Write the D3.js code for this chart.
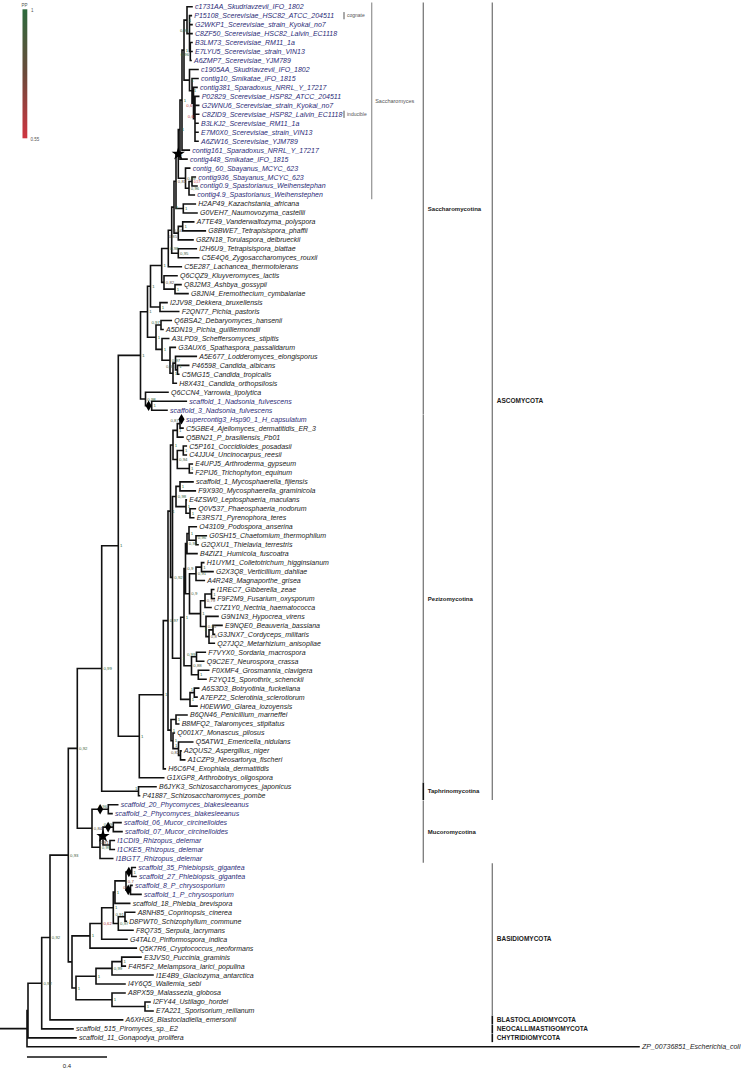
<!DOCTYPE html>
<html><head><meta charset="utf-8">
<script src="https://cdn.jsdelivr.net/npm/d3@7"></script>
<style>body{margin:0;background:#fff}svg{display:block}</style>
</head><body><svg id="c" width="741" height="1072"></svg>
<script>
// [id, parent, distance from root (subst./site), posterior probability]
const backboneNodes = [
 ["ROOT","",0,null],["X4","ROOT",0.005,null],["X3","X4",0.0735,0.92],["X2","X3",0.115,0.92],
 ["X1","X2",0.2065,0.93],["DIKMUC","X1",0.2515,0.92],["ASCO","DIKMUC",0.3735,0.99],["ASC","ASCO",0.4565,1]
];
const saccharomycotinaNodes = [
 ["SROOT","ASC",0.5675,1],["SC3","SROOT",0.6025,1],["SC2","SC3",0.6175,1],["SCE","SC2",0.6735,1],
 ["SACL","SCE",0.7065,0.98],["PRE","SACL",0.7235,0.84],["WGD","PRE",0.735,1],["WGD1","WGD",0.745,0.81],
 ["SACC","WGD1",0.7565,1],["A3","SACC",0.765,1],["A2","A3",0.775,1],["A1","A2",0.785,1],["COG","A1",0.8,1],
 ["c1731AA_Skudriavzevii_IFO_1802","COG",0.825,null],["COG2","COG",0.8125,0.96],
 ["P15108_Scerevisiae_HSC82_ATCC_204511","COG2",0.8215,null],["G2WKP1_Scerevisiae_strain_Kyokai_no7","COG2",0.825,null],
 ["C8ZF50_Scerevisiae_HSC82_Lalvin_EC1118","COG2",0.825,null],["COG3","COG2",0.8165,0.96],
 ["B3LM73_Scerevisiae_RM11_1a","COG3",0.825,null],["E7LYU5_Scerevisiae_strain_VIN13","COG3",0.825,null],
 ["A6ZMP7_Scerevisiae_YJM789","COG3",0.82,null],
 ["INDU","A1",0.8125,1],["c1905AA_Skudriavzevii_IFO_1802","INDU",0.855,null],["I1","INDU",0.825,1],
 ["contig10_Smikatae_IFO_1815","I1",0.855,null],["I2","I1",0.8325,0.6],["contig381_Sparadoxus_NRRL_Y_17217","I2",0.85,null],
 ["I3","I2",0.84,0.6],["P02829_Scerevisiae_HSP82_ATCC_204511","I3",0.8585,null],["G2WNU6_Scerevisiae_strain_Kyokai_no7","I3",0.8585,null],
 ["C8ZID9_Scerevisiae_HSP82_Lalvin_EC1118","I3",0.8585,null],["B3LKJ2_Scerevisiae_RM11_1a","I3",0.855,null],
 ["E7M0X0_Scerevisiae_strain_VIN13","I3",0.855,null],["A6ZW16_Scerevisiae_YJM789","I3",0.855,null],
 ["contig161_Sparadoxus_NRRL_Y_17217","A2",0.8115,null],["contig448_Smikatae_IFO_1815","A3",0.8,null],
 ["BAY","SACC",0.7925,0.89],["contig_60_Sbayanus_MCYC_623","BAY",0.8135,null],["BAY2","BAY",0.81,0.96],
 ["BAY3","BAY2",0.825,0.57],["contig936_Sbayanus_MCYC_623","BAY3",0.8415,null],["contig0.9_Spastorianus_Weihenstephan","BAY3",0.85,null],
 ["contig4.9_Spastorianus_Weihenstephen","BAY2",0.8365,null],
 ["KN","WGD1",0.7815,1],["H2AP49_Kazachstania_africana","KN",0.8415,null],["G0VEH7_Naumovozyma_castellii","KN",0.85,null],
 ["VTT","WGD",0.7565,0.85],["VT","VTT",0.7785,1],["A7TE49_Vanderwaltozyma_polyspora","VT",0.8335,null],
 ["G8BWE7_Tetrapisispora_phaffii","VT",0.8915,null],["G8ZN18_Torulaspora_delbrueckii","VTT",0.83,null],
 ["ZT","PRE",0.7565,0.95],["I2H6U9_Tetrapisispora_blattae","ZT",0.8465,null],["C5E4Q6_Zygosaccharomyces_rouxii","ZT",0.8585,null],
 ["C5E287_Lachancea_thermotolerans","SACL",0.7715,null],
 ["KLUY","SCE",0.685,0.82],["Q6CQZ9_Kluyveromyces_lactis","KLUY",0.75,null],["AE","KLUY",0.74,1],
 ["Q8J2M3_Ashbya_gossypii","AE",0.77,null],["G8JNI4_Eremothecium_cymbalariae","AE",0.805,null],
 ["DP","SC2",0.665,1],["I2JV98_Dekkera_bruxellensis","DP",0.7,null],["F2QN77_Pichia_pastoris","DP",0.7585,null],
 ["CUG","SC3",0.645,1],["DEB","CUG",0.67,0.97],["Q6BSA2_Debaryomyces_hansenii","DEB",0.7215,null],
 ["A5DN19_Pichia_guilliermondii","DEB",0.68,null],["CTG1","CUG",0.675,1],["A3LPD9_Scheffersomyces_stipitis","CTG1",0.7085,null],
 ["CTG2","CTG1",0.715,0.97],["G3AUX6_Spathaspora_passalidarum","CTG2",0.7415,null],["CTG3","CTG2",0.73,1],
 ["CTG4","CTG3",0.7425,0.86],["A5E677_Lodderomyces_elongisporus","CTG4",0.8465,null],["CTG5","CTG4",0.7525,1],
 ["P46598_Candida_albicans","CTG5",0.8085,null],["C5MG15_Candida_tropicalis","CTG5",0.7585,null],
 ["H8X431_Candida_orthopsilosis","CTG3",0.7465,null],
 ["YN","SROOT",0.5925,0.98],["Q6CCN4_Yarrowia_lipolytica","YN",0.705,null],["NADS","YN",0.6235,1],
 ["scaffold_1_Nadsonia_fulvescens","NADS",0.7965,null],["scaffold_3_Nadsonia_fulvescens","NADS",0.7,null]
];
const pezizomycotinaNodes = [
 ["PEZ","ASC",0.5615,1],["REST","PEZ",0.6815,1],["P1","REST",0.705,0.97],["P2","P1",0.7175,1],
 ["ONY","P2",0.73,1],["AJ2","ONY",0.7515,1],["AJ","AJ2",0.765,0.87],
 ["supercontig3_Hsp90_1_H_capsulatum","AJ",0.78,null],["C5GBE4_Ajellomyces_dermatitidis_ER_3","AJ",0.78,null],
 ["Q5BN21_P_brasiliensis_Pb01","AJ2",0.78,null],["CUAR","ONY",0.7515,0.94],["CU","CUAR",0.7815,1],
 ["C5P161_Coccidioides_posadasii","CU",0.7965,null],["C4JJU4_Uncinocarpus_reesii","CU",0.7965,null],
 ["AR","CUAR",0.8115,1],["E4UPJ5_Arthroderma_gypseum","AR",0.8265,null],["F2PIJ6_Trichophyton_equinum","AR",0.8265,null],
 ["DSL","P2",0.7275,0.92],["DOTH","DSL",0.745,0.98],["MYC","DOTH",0.765,1],
 ["scaffold_1_Mycosphaerella_fijiensis","MYC",0.83,null],["F9X930_Mycosphaerella_graminicola","MYC",0.8415,null],
 ["PLEO","DOTH",0.795,1],["E4ZSW0_Leptosphaeria_maculans","PLEO",0.7965,null],["PL2","PLEO",0.815,1],
 ["Q0V537_Phaeosphaeria_nodorum","PL2",0.8415,null],["E3RS71_Pyrenophora_teres","PL2",0.8335,null],
 ["SL","DSL",0.7685,1],["SORD","SL",0.785,1],["CGH","SORD",0.7925,0.9],["CHAE","CGH",0.8,0.92],["SOR1","CHAE",0.81,1],
 ["O43109_Podospora_anserina","SOR1",0.8465,null],["CT","SOR1",0.845,0.96],
 ["G0SH15_Chaetomium_thermophilum","CT",0.8965,null],["G2QXU1_Thielavia_terrestris","CT",0.855,null],
 ["B4ZIZ1_Humicola_fuscoatra","CHAE",0.85,null],["GH","CGH",0.8125,0.9],["GVM","GH",0.845,0.91],["GV","GVM",0.8725,1],
 ["H1UYM1_Colletotrichum_higginsianum","GV",0.8835,null],["G2X3Q8_Verticillium_dahliae","GV",0.93,null],
 ["A4R248_Magnaporthe_grisea","GVM",0.8865,null],["HYP","GH",0.8675,1],["NEC","HYP",0.89,0.79],["FUS","NEC",0.9225,1],
 ["I1REC7_Gibberella_zeae","FUS",0.9335,null],["F9F2M9_Fusarium_oxysporum","FUS",0.9365,null],
 ["C7Z1Y0_Nectria_haematococca","NEC",0.92,null],["HYP2","HYP",0.895,0.85],["G9N1N3_Hypocrea_virens","HYP2",0.955,null],
 ["CM","HYP2",0.91,0.8],["BC","CM",0.93,1],["E9NQE0_Beauveria_bassiana","BC",0.975,null],
 ["G3JNX7_Cordyceps_militaris","BC",0.9375,null],["Q27JQ2_Metarhizium_anisopliae","CM",0.9365,null],
 ["NSO","SORD",0.8225,0.88],["NS","NSO",0.8475,0.99],["F7VYX0_Sordaria_macrospora","NS",0.8915,null],
 ["Q9C2E7_Neurospora_crassa","NS",0.8835,null],["OPH","NSO",0.8565,1],["F0XMF4_Grosmannia_clavigera","OPH",0.9085,null],
 ["F2YQ15_Sporothrix_schenckii","OPH",0.895,null],["LEO","SL",0.815,1],["BS","LEO",0.8365,1],
 ["A6S3D3_Botryotinia_fuckeliana","BS",0.8585,null],["A7EPZ2_Sclerotinia_sclerotiorum","BS",0.85,null],
 ["H0EWW0_Glarea_lozoyensis","LEO",0.85,null],
 ["EURO","P1",0.72,1],["PT","EURO",0.745,1],["B6QN46_Penicillium_marneffei","PT",0.8,null],
 ["B8MFQ2_Talaromyces_stipitatus","PT",0.7585,null],["MASP","EURO",0.73,1],["Q001X7_Monascus_pilosus","MASP",0.7365,null],
 ["ASP","MASP",0.7575,1],["Q5ATW1_Emericella_nidulans","ASP",0.8285,null],["AN","ASP",0.7675,0.82],
 ["A2QUS2_Aspergillus_niger","AN",0.77,null],["A1CZP9_Neosartorya_fischeri","AN",0.7885,null],
 ["H6C6P4_Exophiala_dermatitidis","REST",0.6915,null],["G1XGP8_Arthrobotrys_oligospora","PEZ",0.6835,null]
];
const taphrinomycotinaNodes = [
 ["SCHIZO","ASCO",0.5575,1],["B6JYK3_Schizosaccharomyces_japonicus","SCHIZO",0.645,null],
 ["P41887_Schizosaccharomyces_pombe","SCHIZO",0.5625,null]
];
const mucoromycotinaNodes = [
 ["MUCORO","DIKMUC",0.325,0.84],["PHY","MUCORO",0.4065,0.96],
 ["scaffold_20_Phycomyces_blakesleeanus","PHY",0.4535,null],["scaffold_2_Phycomyces_blakesleeanus","PHY",0.425,null],
 ["MR","MUCORO",0.365,0.99],["MR2","MR",0.38,null],["MUC","MR2",0.4315,0.99],
 ["scaffold_06_Mucor_circinelloides","MUC",0.47,null],["scaffold_07_Mucor_circinelloides","MUC",0.475,null],
 ["RH1","MR2",0.415,0.81],["I1CDI9_Rhizopus_delemar","RH1",0.4365,null],["I1CKE5_Rhizopus_delemar","RH1",0.4365,null],
 ["I1BGT7_Rhizopus_delemar","MR",0.4285,null]
];
const basidiomycotaNodes = [
 ["BASID","X1",0.225,null],["AGAQ","BASID",0.315,1],["AGS","AGAQ",0.3735,0.62],["AGAR","AGS",0.4315,1],
 ["POLY","AGAR",0.44,1],["PHPC","POLY",0.495,0.7],["PH1","PHPC",0.5235,1],
 ["scaffold_35_Phlebiopsis_gigantea","PH1",0.5415,null],["scaffold_27_Phlebiopsis_gigantea","PH1",0.545,null],
 ["PC","PHPC",0.5175,0.7],["scaffold_8_P_chrysosporium","PC",0.525,null],["scaffold_1_P_chrysosporium","PC",0.57,null],
 ["scaffold_18_Phlebia_brevispora","POLY",0.5135,null],["ADS","AGAR",0.4565,0.97],["AD","ADS",0.49,0.91],
 ["A8NH85_Coprinopsis_cinerea","AD",0.5385,null],["D8PWT0_Schizophyllum_commune","AD",0.4965,null],
 ["F8Q735_Serpula_lacrymans","ADS",0.53,null],["G4TAL0_Piriformospora_indica","AGS",0.5,null],
 ["Q5K7R6_Cryptococcus_neoformans","AGAQ",0.5465,null],
 ["BASAL","BASID",0.245,1],["PW","BASAL",0.345,1],["PUC","PW",0.425,0.99],["PM","PUC",0.4735,1],
 ["E3JVS0_Puccinia_graminis","PM",0.57,null],["F4R5F2_Melampsora_larici_populina","PM",0.4915,null],
 ["I1E4B9_Glaciozyma_antarctica","PUC",0.63,null],["I4Y6Q5_Wallemia_sebi","PW",0.49,null],
 ["USTI","BASAL",0.425,1],["A8PX59_Malassezia_globosa","USTI",0.49,null],["UST2","USTI",0.59,1],
 ["I2FY44_Ustilago_hordei","UST2",0.615,null],["E7A221_Sporisorium_reilianum","UST2",0.63,null]
];
const basalLeaves = [
 ["A6XHG6_Blastocladiella_emersonii","X2",0.478,null],["scaffold_515_Piromyces_sp._E2","X3",0.23,null],
 ["scaffold_11_Gonapodya_prolifera","X4",0.245,null],["ZP_00736851_Escherichia_coli","ROOT",3.06,null]
];
// sequences shown in blue (genome-project sequences)
const highlightedPrefixes = ["c1731AA","P15108","G2WKP1","C8ZF50","B3LM73","E7LYU5","A6ZMP7","c1905AA","contig","P02829",
 "G2WNU6","C8ZID9","B3LKJ2","E7M0X0","A6ZW16","scaffold_1_Nadsonia","scaffold_3_Nadsonia","supercontig3",
 "scaffold_20","scaffold_2_","scaffold_06","scaffold_07","I1CDI9","I1CKE5","I1BGT7","scaffold_35","scaffold_27","scaffold_8_","scaffold_1_P_"];
const starNodes = ["SACC","MR2"];
const diamondBranches = ["NADS","supercontig3_Hsp90_1_H_capsulatum","PHY","MUC","PH1","PC"];
// clade annotations
const groupNames = ["Saccharomyces","Saccharomycotina","Pezizomycotina","Taphrinomycotina","Mucoromycotina",
 "ASCOMYCOTA","BASIDIOMYCOTA","BLASTOCLADIOMYCOTA","NEOCALLIMASTIGOMYCOTA","CHYTRIDIOMYCOTA"];
const groupFirst = ["c1731AA_Skudriavzevii_IFO_1802","c1731AA_Skudriavzevii_IFO_1802","supercontig3_Hsp90_1_H_capsulatum",
 "B6JYK3_Schizosaccharomyces_japonicus","scaffold_20_Phycomyces_blakesleeanus","c1731AA_Skudriavzevii_IFO_1802",
 "scaffold_35_Phlebiopsis_gigantea","A6XHG6_Blastocladiella_emersonii","scaffold_515_Piromyces_sp._E2","scaffold_11_Gonapodya_prolifera"];
const groupLast = ["contig4.9_Spastorianus_Weihenstephen","scaffold_3_Nadsonia_fulvescens","G1XGP8_Arthrobotrys_oligospora",
 "P41887_Schizosaccharomyces_pombe","I1BGT7_Rhizopus_delemar","P41887_Schizosaccharomyces_pombe",
 "E7A221_Sporisorium_reilianum","A6XHG6_Blastocladiella_emersonii","scaffold_515_Piromyces_sp._E2","scaffold_11_Gonapodya_prolifera"];
const groupLevel = [0,1,1,1,1,2,2,2,2,2];
const paralogNotes = ["cognate","inducible"];
const paralogLeaves = ["P15108_Scerevisiae_HSC82_ATCC_204511","C8ZID9_Scerevisiae_HSP82_Lalvin_EC1118"];
const legendMax = 1, legendMin = 0.55;
const scaleBarValue = 0.4;

const svg = d3.select("#c");
const FONT = "Liberation Sans, Arial, sans-serif";
const all = [].concat(backboneNodes, saccharomycotinaNodes, pezizomycotinaNodes, taphrinomycotinaNodes,
  mucoromycotinaNodes, basidiomycotaNodes, basalLeaves);
const root = d3.stratify().id(d => d[0]).parentId(d => d[1] === "" ? null : d[1])(all);
const leaves = root.leaves();
const yScale = d3.scaleLinear().domain([0, leaves.length - 1]).range([6.7, 1046.8]);
const xScale = d3.scaleLinear().domain([0, 1]).range([27, 227]);
leaves.forEach((l, i) => l.py = yScale(i));
root.eachAfter(n => { if (n.children) n.py = (n.children[0].py + n.children[n.children.length - 1].py) / 2; });
root.each(n => n.px = xScale(n.data[2]));
const byId = new Map(root.descendants().map(n => [n.id, n]));
const ppColor = d3.scaleLinear().domain([legendMin, (legendMin + legendMax) / 2, legendMax])
  .range(["#cf3440", "#6b4a3a", "#2c6a3c"]);

// branches
let p = d3.path();
p.moveTo(xScale(-0.135), root.py); p.lineTo(root.px, root.py);
root.descendants().forEach(n => {
  if (n.parent) { p.moveTo(n.parent.px, n.py); p.lineTo(n.px, n.py); }
  if (n.children) { p.moveTo(n.px, n.children[0].py); p.lineTo(n.px, n.children[n.children.length - 1].py); }
});
svg.append("path").attr("d", p.toString()).attr("fill", "none").attr("stroke", "#111")
  .attr("stroke-width", 1.6).attr("stroke-linecap", "square");

// leaf labels
const leafText = svg.append("g").selectAll("text").data(leaves).join("text")
  .attr("x", d => d.px + 3).attr("y", d => d.py).attr("dy", "0.35em")
  .attr("font-family", FONT).attr("font-style", "italic").attr("font-size", 7)
  .attr("fill", d => highlightedPrefixes.some(h => d.id.startsWith(h)) ? "#2c2c78" : "#1a1a1a")
  .text(d => d.id);
const boxes = [];
leafText.each(function () { const b = this.getBBox(); boxes.push({x0: b.x, x1: b.x + b.width, y0: b.y + 0.6, y1: b.y + b.height - 0.6}); });

// support values: right of the node, or another free spot close to it
const fmt = v => String(v).replace(".", ",");
const overl = (a, b) => a.x0 < b.x1 && a.x1 > b.x0 && a.y0 < b.y1 && a.y1 > b.y0;
const gS = svg.append("g").attr("font-family", FONT);
root.descendants().filter(n => n.children && n.data[3] != null).forEach(n => {
  const t = gS.append("text").attr("font-size", 4.3).attr("fill", ppColor(n.data[3])).text(fmt(n.data[3]));
  const cands = [
    [n.px + 1.8, n.py + 1.6, "start"], [n.px - 1.2, n.py - 1.2, "end"], [n.px - 1.2, n.py + 4.4, "end"],
    [n.px + 1.8, n.py - 1.4, "start"], [n.px + 1.8, n.py + 4.6, "start"], [n.px - 1.2, n.py - 4.2, "end"],
    [n.px - 1.2, n.py + 7.4, "end"], [n.px - 6, n.py + 1.6, "end"]
  ];
  let chosen = null;
  for (const c of cands) {
    t.attr("x", c[0]).attr("y", c[1]).attr("text-anchor", c[2]);
    const b = t.node().getBBox();
    const box = {x0: b.x, x1: b.x + b.width, y0: b.y + 0.4, y1: b.y + b.height - 0.4};
    if (!boxes.some(o => overl(box, o))) { chosen = box; break; }
  }
  if (!chosen) {
    t.attr("font-size", 3.4).attr("x", cands[0][0]).attr("y", cands[0][1]).attr("text-anchor", "start");
    const b = t.node().getBBox(); chosen = {x0: b.x, x1: b.x + b.width, y0: b.y, y1: b.y + b.height};
  }
  boxes.push(chosen);
});

// markers
svg.append("g").selectAll("path").data(starNodes.map(id => byId.get(id))).join("path")
  .attr("transform", d => `translate(${d.px},${d.py})`)
  .attr("d", d3.symbol().type(d3.symbolStar).size(55)).attr("fill", "#000");
svg.append("g").selectAll("path").data(diamondBranches.map(id => byId.get(id))).join("path")
  .attr("transform", d => `translate(${(d.px + d.parent.px) / 2},${d.py})`)
  .attr("d", d3.symbol().type(d3.symbolDiamond).size(32)).attr("fill", "#000");

// clade bars
const levelX = [371.7, 423.3, 492.3];
const ga = svg.append("g").attr("font-family", FONT);
groupNames.forEach((name, i) => {
  const y0 = byId.get(groupFirst[i]).py - 4.3, y1 = byId.get(groupLast[i]).py + 4.3;
  const lv = groupLevel[i], x = levelX[lv];
  const short = (y1 - y0) < 30;
  ga.append("line").attr("x1", x).attr("x2", x).attr("y1", y0).attr("y2", y1)
    .attr("stroke", short ? "#111" : (lv === 0 ? "#9a9a9a" : "#7a7a7a")).attr("stroke-width", short ? 1.6 : 1.3);
  ga.append("text").attr("x", x + (lv === 0 ? 3.5 : 4.5)).attr("y", (y0 + y1) / 2).attr("dy", "0.35em")
    .attr("font-size", lv === 0 ? 5.5 : (lv === 1 ? 6 : 6.5)).attr("font-weight", lv === 0 ? "normal" : "bold")
    .attr("fill", lv === 0 ? "#555" : "#1a1a1a").text(name);
});
paralogNotes.forEach((t, i) => {
  const y = byId.get(paralogLeaves[i]).py;
  ga.append("line").attr("x1", 344).attr("x2", 344).attr("y1", y - 3.6).attr("y2", y + 3.6).attr("stroke", "#555").attr("stroke-width", 1);
  ga.append("text").attr("x", 347).attr("y", y).attr("dy", "0.35em").attr("font-size", 5).attr("fill", "#555").text(t);
});

// legend
const defs = svg.append("defs");
const lg = defs.append("linearGradient").attr("id", "pp").attr("x1", 0).attr("x2", 0).attr("y1", 0).attr("y2", 1);
[0, 0.5, 1].forEach(o => lg.append("stop").attr("offset", o).attr("stop-color", ppColor(legendMax - o * (legendMax - legendMin))));
svg.append("rect").attr("x", 22.5).attr("y", 9.3).attr("width", 4.8).attr("height", 129).attr("fill", "url(#pp)");
const lt = svg.append("g").attr("font-family", FONT).attr("font-size", 4.5).attr("fill", "#555");
lt.append("text").attr("x", 21.5).attr("y", 6.5).text("PP");
lt.append("text").attr("x", 31).attr("y", 11.5).text(String(legendMax));
lt.append("text").attr("x", 30.5).attr("y", 140.5).text(String(legendMin));

// scale bar
const sb = svg.append("g");
sb.append("line").attr("x1", xScale(0)).attr("x2", xScale(scaleBarValue)).attr("y1", 1057).attr("y2", 1057)
  .attr("stroke", "#111").attr("stroke-width", 1.3);
sb.append("text").attr("x", (xScale(0) + xScale(scaleBarValue)) / 2).attr("y", 1068).attr("text-anchor", "middle")
  .attr("font-family", FONT).attr("font-size", 6).attr("fill", "#222").text(String(scaleBarValue));
</script></body></html>
